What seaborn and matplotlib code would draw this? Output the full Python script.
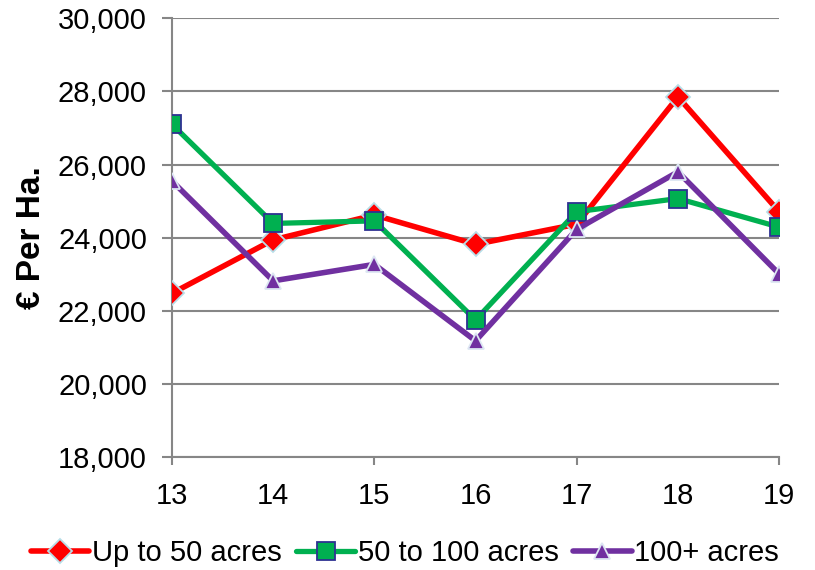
import matplotlib
matplotlib.use("Agg")
import matplotlib.pyplot as plt
import numpy as np
import pandas as pd
import seaborn as sns

years = [13, 14, 15, 16, 17, 18, 19]
up_to_50 = [22480, 23940, 24620, 23820, 24370, 27850, 24710]
from_50_to_100 = [27100, 24390, 24460, 21750, 24710, 25070, 24290]
over_100 = [25550, 22820, 23270, 21180, 24230, 25800, 23010]
series_names = ["Up to 50 acres", "50 to 100 acres", "100+ acres"]

sns.set_style("white")
plt.rcParams["font.family"] = ["Liberation Sans", "DejaVu Sans"]
plt.rcParams["text.color"] = "black"
plt.rcParams["axes.labelcolor"] = "black"
plt.rcParams["xtick.labelcolor"] = "black"
plt.rcParams["ytick.labelcolor"] = "black"

fig = plt.figure(figsize=(8.15, 5.7), dpi=100)
ax = fig.add_axes([0.211, 0.198, 0.745, 0.770])

# (values, colour, line width, marker, marker size, marker edge)
styles = [
    (up_to_50, "#FF0000", 4.0, "D", 12, "#B7DEE8"),
    (from_50_to_100, "#00B050", 3.8, "s", 13, "#2E3192"),
    (over_100, "#7030A0", 4.0, "^", 12, "#DCE6F2"),
]
for name, (vals, col, lw, mk, ms, mec) in zip(series_names, styles):
    sns.lineplot(x=years, y=vals, ax=ax, color=col, linewidth=lw,
                 marker=mk, markersize=ms, markeredgecolor=mec,
                 markeredgewidth=1.3, label=name, zorder=3)

ax.set_xlim(13, 19)
ax.set_ylim(18000, 30000)
ax.set_yticks(np.arange(18000, 30001, 2000))
ax.set_yticklabels([f"{v:,}" for v in range(18000, 30001, 2000)])
ax.set_xticks(years)
ax.yaxis.grid(True, color="#868686", linewidth=1.5)
ax.xaxis.grid(False)
for s in ["top", "right"]:
    ax.spines[s].set_visible(False)
for s in ["left", "bottom"]:
    ax.spines[s].set_color("#868686")
    ax.spines[s].set_linewidth(1.5)
ax.tick_params(axis="y", length=7, width=1.5, color="#868686",
               direction="out", left=True, labelsize=21, pad=11)
ax.tick_params(axis="x", length=6, width=1.5, color="#868686",
               direction="out", bottom=True, labelsize=21, pad=12)
# tick marks only at every other category
for t in ax.xaxis.get_major_ticks()[1::2]:
    t.tick1line.set_visible(False)
ax.set_xlabel("")
ax.set_ylabel("€ Per Ha.", fontsize=24, fontweight="bold", labelpad=8)

ax.legend(loc="center", bbox_to_anchor=(0.497, 0.03), bbox_transform=fig.transFigure,
          ncol=3, frameon=False, fontsize=21, handlelength=2.0,
          handletextpad=0.1, columnspacing=0.5)

fig.savefig("out.png", dpi=100)
